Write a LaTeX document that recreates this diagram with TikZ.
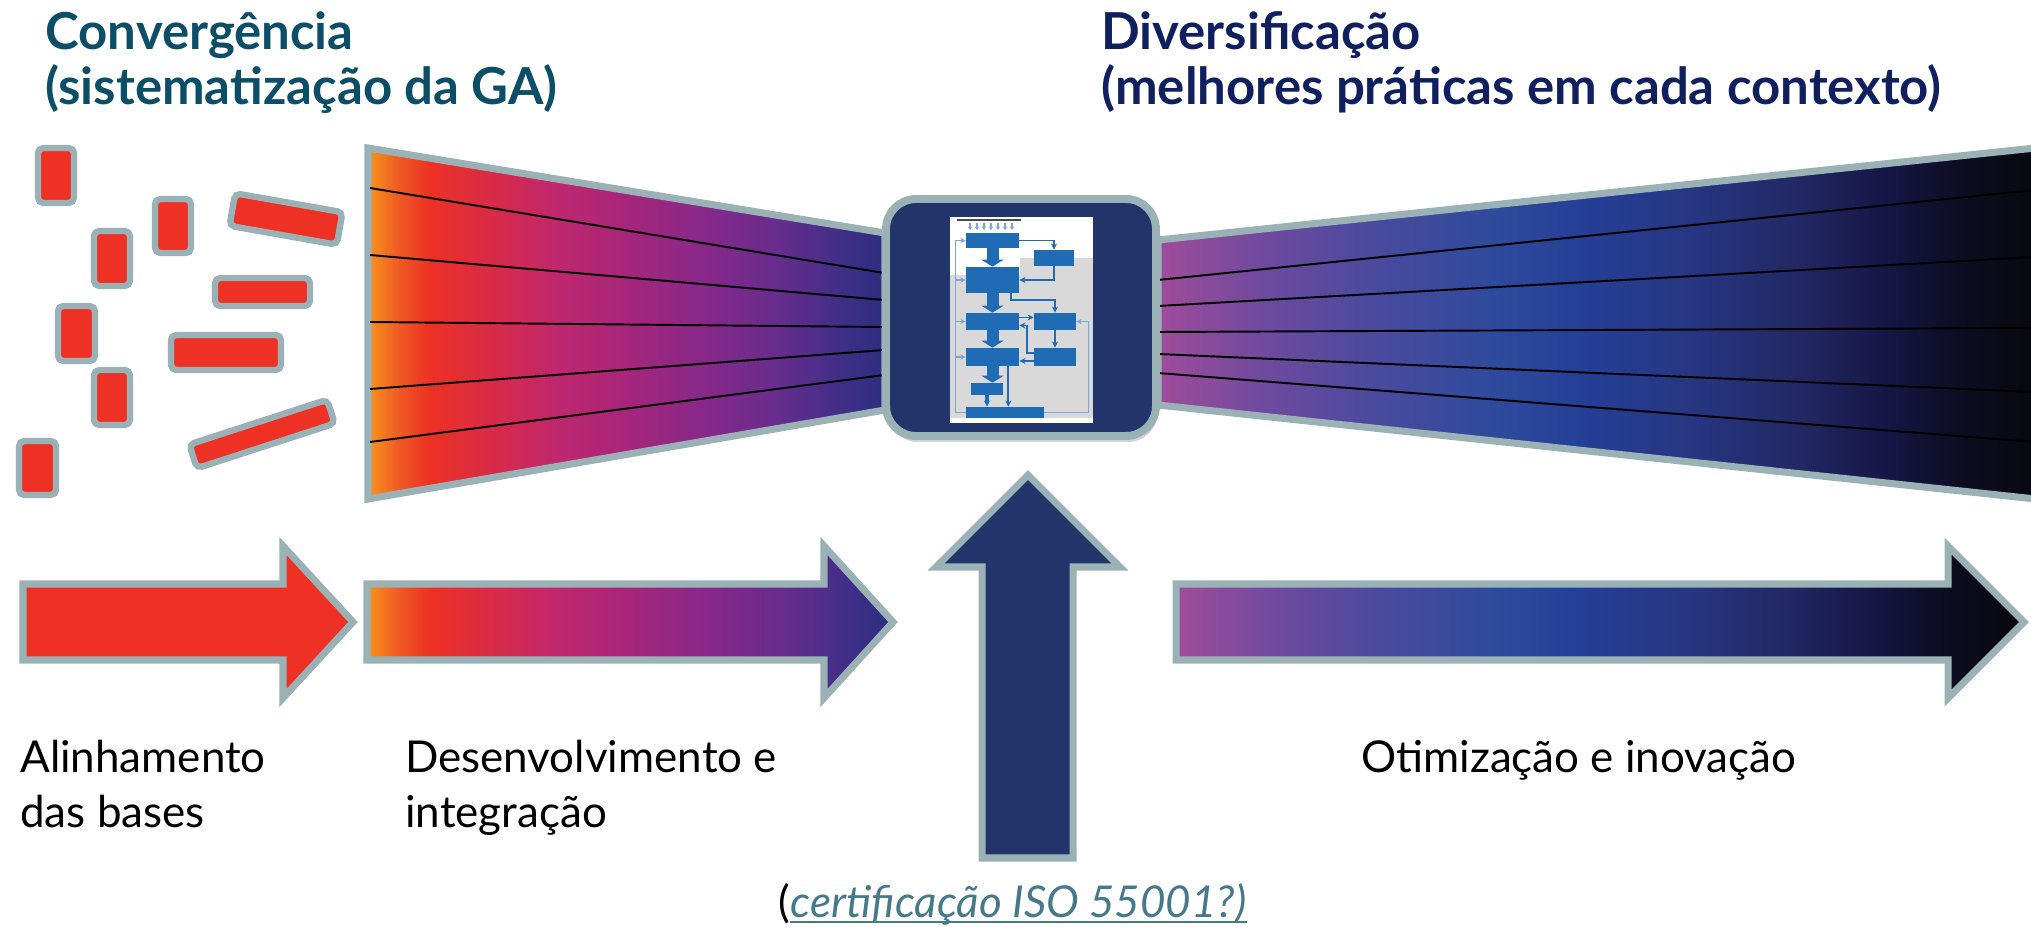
\documentclass[tikz,border=0pt]{standalone}
\usepackage{fontspec}
\setmainfont{Lato}
\usetikzlibrary{positioning, arrows.meta, shadows}

\definecolor{rimgray}{RGB}{154,178,182}
\definecolor{brickred}{RGB}{238,49,36}
\definecolor{navybox}{RGB}{34,53,107}
\definecolor{convteal}{RGB}{12,78,104}
\definecolor{divnavy}{RGB}{16,32,94}
\definecolor{linkteal}{RGB}{70,122,138}
\definecolor{fcblue}{RGB}{31,107,180}
\definecolor{fclight}{RGB}{125,165,215}
\definecolor{fcgray}{RGB}{217,217,217}
% warm gradient stops
\definecolor{wA}{RGB}{247,148,29}
\definecolor{wB}{RGB}{240,90,36}
\definecolor{wC}{RGB}{236,49,36}
\definecolor{wD}{RGB}{214,42,74}
\definecolor{wE}{RGB}{192,39,110}
\definecolor{wF}{RGB}{166,38,122}
\definecolor{wG}{RGB}{135,40,138}
\definecolor{wH}{RGB}{100,45,140}
\definecolor{wI}{RGB}{62,46,135}
\definecolor{wJ}{RGB}{44,46,128}
% cool gradient stops
\definecolor{cA}{RGB}{160,76,154}
\definecolor{cB}{RGB}{110,74,158}
\definecolor{cC}{RGB}{72,74,158}
\definecolor{cD}{RGB}{46,74,156}
\definecolor{cE}{RGB}{37,62,150}
\definecolor{cF}{RGB}{38,54,130}
\definecolor{cG}{RGB}{34,40,100}
\definecolor{cH}{RGB}{22,22,70}
\definecolor{cI}{RGB}{13,13,35}
\definecolor{cJ}{RGB}{8,8,12}

\pgfdeclarehorizontalshading{warm}{100bp}{color(0bp)=(wA); color(25bp)=(wA);
  color(28bp)=(wB); color(31bp)=(wC); color(37.5bp)=(wD); color(43bp)=(wE);
  color(50bp)=(wF); color(57.5bp)=(wG); color(65bp)=(wH); color(71bp)=(wI);
  color(75bp)=(wJ); color(100bp)=(wJ)}
\pgfdeclarehorizontalshading{cool}{100bp}{color(0bp)=(cA); color(25bp)=(cA);
  color(31bp)=(cB); color(37.5bp)=(cC); color(44bp)=(cD); color(49bp)=(cE);
  color(55bp)=(cF); color(61bp)=(cG); color(66bp)=(cH); color(70bp)=(cI);
  color(75bp)=(cJ); color(100bp)=(cJ)}

\tikzset{
  rim/.style={draw=rimgray, line width=4pt, line join=miter},
  brick/.style={rectangle, rounded corners=3pt, fill=brickred, draw=rimgray, line width=3.6pt, inner sep=0pt},
  fanline/.style={black, line width=1.1pt},
  headline/.style={font=\fontsize{29}{34}\selectfont\bfseries, anchor=base west, inner sep=0pt},
  stage/.style={font=\fontsize{25}{30}\selectfont, anchor=base west, inner sep=0pt},
  fcbox/.style={rectangle, fill=fcblue, inner sep=0pt},
  fcline/.style={draw=fclight, line width=0.9pt, -{Stealth[length=3pt,width=3pt]}},
  fcdark/.style={draw=fcblue, line width=1.1pt, -{Stealth[length=3.5pt,width=3.5pt]}},
  fcarrow/.style={draw=fcblue, line width=0.24cm, -{Triangle[length=0.14cm,width=0.44cm]}}
}

\begin{document}
\begin{tikzpicture}[x=0.02cm, y=-0.02cm]
  \useasboundingbox (0,0) rectangle (2031,932);

  % Fans
  \draw[rim, shading=warm] (368,148) -- (885,233) -- (885,410) -- (368,499) -- cycle;
  \draw[rim, shading=cool] (1158,240) -- (2045,147) -- (2045,500) -- (1158,405) -- cycle;
  \foreach \a/\b in {188/273, 255/300, 322/327, 389/350, 442/375}
    \draw[fanline] (370,\a) -- (884,\b);
  \foreach \a/\b in {280/190, 306/257, 332/328, 354/392, 373/442}
    \draw[fanline] (1158,\a) -- (2034,\b);

  % Central box
  \node[rectangle, rounded corners=0.6cm, fill=navybox, draw=rimgray, line width=4.5pt,
        minimum width=5.4cm, minimum height=4.74cm,
        drop shadow={opacity=0.35, shadow xshift=0.04cm, shadow yshift=-0.12cm}] (hub) at (1021,317.5) {};

  % Flowchart page inside the box
  \fill[white] (950,217) rectangle (1093,423);
  \fill[fcgray] (1020,258) rectangle (1093,275);
  \fill[fcgray] (950,275) rectangle (1093,418);
  \draw[gray!60!black, line width=1.2pt] (957,220) -- (1021,220);
  \foreach \k in {0,...,6}
    \draw[draw=fclight, line width=0.8pt, -{Stealth[length=2pt,width=2.5pt]}] (970+\k*7,223) -- ++(0,7);
  \foreach \n/\x/\y/\w/\h in {f1/992.5/240.5/53/15, r1/1054/258/40/16, f2/992.5/280/53/26,
      f3/992.5/321.5/53/17, r2/1055/321.5/42/17, r3/1055/357/42/18, f4/992.5/357/53/18,
      f5/987/389/32/12, f6/1005/412.5/78/11}
    \node[fcbox, minimum width=\w*0.02cm, minimum height=\h*0.02cm] (\n) at (\x,\y) {};
  \draw[fcarrow] (f1.south) -- (f2.north);
  \draw[fcarrow] (f2.south) -- (f3.north);
  \draw[fcarrow] (f3.south) -- (f4.north);
  \draw[fcarrow] (f4.south) -- (f4.south |- f5.north);
  \draw[fcdark, line width=2.5pt] (f5.south) -- (f5.south |- f6.north);
  \draw[fcline] (f6.west) -- ++(-10,0) coordinate (loopL) |- (f1.west);
  \foreach \t in {f2,f3,f4}
    \draw[fcline] (loopL |- \t.west) -- (\t.west);
  \draw[fcline] (f6.east) -- ++(44,0) |- (r2.east);
  \draw[fcdark] (f1.east) -| (r1.north);
  \draw[fcdark] (r1.south) |- (f2.east);
  \draw[fcdark] ([xshift=-0.16cm]f2.south east) -- ++(0,7) -| (r2.north);
  \draw[fcdark] ([yshift=0.08cm]f3.east) -- ([yshift=0.08cm]r2.west);
  \draw[fcdark] (r2.south) -- (r3.north);
  \draw[fcdark] ([yshift=0.08cm]r3.west) -- ++(-7,0) |- ([yshift=-0.08cm]f3.east);
  \draw[fcdark] ([yshift=-0.08cm]r3.west) -- ([yshift=-0.08cm]f4.east);
  \draw[fcdark] ([xshift=-0.22cm]f4.south east) -- ([xshift=-0.22cm]f4.south east |- f6.north);

  % Scattered bricks
  \foreach \x/\y/\w/\h/\a [count=\i] in {56/175.5/42/61/0, 173/226/42/60/0, 112/258.5/42/61/0,
      286/219/115/39/-10, 262.5/292/101/34/0, 76.5/333.5/43/61/0, 226/352.5/116/41/0,
      112/397.5/42/61/0, 262/434/151/31/18, 37.5/468/43/60/0}
    \node[brick, minimum width={(\w-6)*0.02cm}, minimum height={(\h-6)*0.02cm}, rotate=\a] (brick\i) at (\x,\y) {};

  % Block arrows
  \draw[rim, fill=brickred] (23,584) -- (283,584) -- (283,546) -- (353,622) -- (283,698) -- (283,660) -- (23,660) -- cycle;
  \draw[rim, shading=warm] (367,584) -- (824,584) -- (824,546) -- (893,622) -- (824,698) -- (824,660) -- (367,660) -- cycle;
  \draw[rim, shading=cool] (1176,584) -- (1948,584) -- (1948,546) -- (2024,622) -- (1948,698) -- (1948,660) -- (1176,660) -- cycle;
  \draw[rim, fill=navybox] (982,858) -- (982,567) -- (936,567) -- (1028,475) -- (1120,567) -- (1073,567) -- (1073,858) -- cycle;

  % Texts
  \node[headline, text=convteal] (convA) at (45,50) {Convergência};
  \node[headline, text=convteal] (convB) at (45,105) {(sistematização da GA)};
  \node[headline, text=divnavy] (divA) at (1101,50) {Diversificação};
  \node[headline, text=divnavy] (divB) at (1101,105) {(melhores práticas em cada contexto)};
  \node[stage] (alinA) at (20,772) {Alinhamento};
  \node[stage] (alinB) at (20,827) {das bases};
  \node[stage] (desA) at (405,772) {Desenvolvimento e};
  \node[stage] (desB) at (405,827) {integração};
  \node[stage] (otim) at (1361,772) {Otimização e inovação};
  \node[stage] (certL) at (778,917) {(};
  \node[stage, text=linkteal, font=\fontsize{25}{30}\selectfont\itshape] (cert) at (certL.base east) {certificação ISO 55001?)};
  \draw[linkteal, line width=1.2pt] ([yshift=-0.1cm]cert.base west) -- ([yshift=-0.1cm]cert.base east);
\end{tikzpicture}
\end{document}
